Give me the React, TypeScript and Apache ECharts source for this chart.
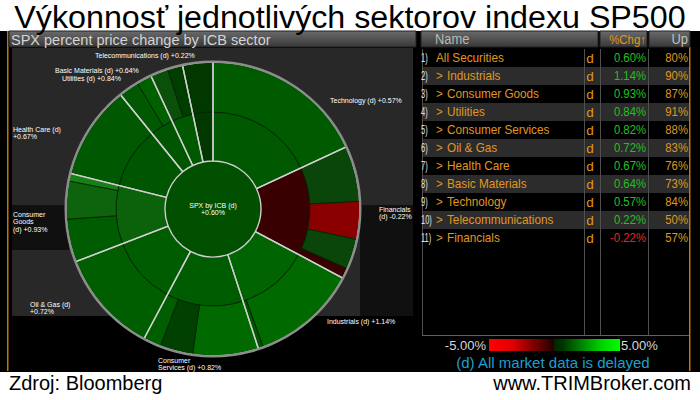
import { useEffect, useRef } from "react";
import * as echarts from "echarts";

// ---------- texts ----------
const TITLE = "Výkonnosť jednotlivých sektorov indexu SP500";
const PANEL_TITLE = "SPX percent price change by ICB sector";
const SOURCE_TEXT = "Zdroj: Bloomberg";
const SITE_TEXT = "www.TRIMBroker.com";
const DELAY_NOTE = "(d) All market data is delayed";
const TABLE_HEADERS = ["Name", "%Chg\u2191", "Up"];
const SCALE_MIN_LABEL = "-5.00%";
const SCALE_MAX_LABEL = "5.00%";

// ---------- index ----------
const INDEX_NAME = "SPX by ICB (d)";
const INDEX_TABLE_NAME = "All Securities";
const INDEX_CHG = 0.6;
const INDEX_UP = 80;
const INDEX_COLOR = "#005000";

// ---------- sectors (clockwise from 12 o'clock) ----------
const sectors = [
  "Technology",
  "Financials",
  "Industrials",
  "Consumer Services",
  "Oil & Gas",
  "Consumer Goods",
  "Health Care",
  "Basic Materials",
  "Utilities",
  "Telecommunications",
];
const sectorWeights = [65, 53, 44, 46, 41, 35, 37, 14, 13, 12];
const sectorChg = [0.57, -0.22, 1.14, 0.82, 0.72, 0.93, 0.67, 0.64, 0.84, 0.22];
const sectorUp = [84, 57, 90, 88, 83, 87, 76, 73, 91, 50];
const sectorColors = [
  "#005800", "#380000", "#006400", "#005c00", "#005c00",
  "#0b620b", "#005600", "#005600", "#005800", "#003800",
];

// ---------- sub-sectors (outer ring) ----------
const subNames = [
  ["Technology"],
  ["Banks", "Insurance", "Financial Services", "Real Estate"],
  ["Industrial Goods & Services", "Construction & Materials"],
  ["Retail", "Media", "Travel & Leisure"],
  ["Oil & Gas"],
  ["Personal & Household Goods", "Food & Beverage", "Automobiles & Parts"],
  ["Health Care"],
  ["Chemicals", "Basic Resources"],
  ["Electricity", "Gas, Water & Multiutilities"],
  ["Telecommunications"],
];
const subWeights = [
  [65], [22, 15, 12, 4], [42, 2], [26, 13, 7], [41],
  [17, 15, 3], [37], [8, 6], [7, 6], [12],
];
const subColors = [
  ["#005a00"],
  ["#0a460a", "#8a0000", "#0a460a", "#380000"],
  ["#006a00", "#005600"],
  ["#006a00", "#004000", "#005e00"],
  ["#005e00"],
  ["#005c00", "#0d640d", "#168016"],
  ["#005800"],
  ["#005800", "#006000"],
  ["#0a500a", "#003e00"],
  ["#003800"],
];

// ---------- label layout (text pattern, left x, first-line centre y) ----------
const labelTemplates = [
  "{n} (d) {v}",
  "{n}\n(d) {v}",
  "{n} (d) {v}",
  "{w0}\n{w1} (d) {v}",
  "{n} (d)\n{v}",
  "{w0}\n{w1}\n(d) {v}",
  "{n} (d)\n{v}",
  "{n} (d) {v}",
  "{n} (d) {v}",
  "{n} (d) {v}",
];
const labelPos: [number, number][] = [
  [330, 100], [379, 209], [327, 321], [158, 360], [30, 304],
  [13, 214], [13, 129], [55, 70], [62, 78], [95, 55],
];

const CX = 213;
const CY = 209;
const R_CENTER = 48;
const R_MID = 97;
const R_OUT = 147;

const ORANGE = "#e0961e";
const GREEN_TXT = "#22c022";
const RED_TXT = "#e02828";

const signed = (v: number) => (v > 0 ? "+" : "") + v.toFixed(2) + "%";

function buildOption() {
  const headerGrad = () =>
    new echarts.graphic.LinearGradient(0, 0, 0, 1, [
      { offset: 0, color: "#6a6a6a" },
      { offset: 1, color: "#383838" },
    ]);

  const els: any[] = [];
  const txt = (o: any) => {
    const { x, y, text, size, color, align, valign, family, weight, scaleX, lineHeight, z } = o;
    els.push({
      type: "text",
      x,
      y,
      scaleX: scaleX ?? 1,
      z: z ?? 50,
      style: {
        x: 0,
        y: 0,
        text,
        fill: color,
        fontSize: size,
        fontFamily: family ?? "Liberation Sans",
        fontWeight: weight ?? "normal",
        align: align ?? "left",
        textAlign: align ?? "left",
        verticalAlign: valign ?? "middle",
        textVerticalAlign: valign ?? "middle",
        lineHeight: lineHeight ?? undefined,
      },
    });
  };
  const rect = (x: number, y: number, w: number, h: number, fill: any, stroke?: string, z = 0) => {
    els.push({
      type: "rect",
      z,
      shape: { x, y, width: w, height: h },
      style: { fill, stroke: stroke ?? null, lineWidth: stroke ? 1 : 0 },
    });
  };
  const line = (x1: number, y1: number, x2: number, y2: number, color: string, w = 1) => {
    els.push({
      type: "line",
      z: 1,
      shape: { x1, y1, x2, y2 },
      style: { stroke: color, lineWidth: w },
    });
  };

  // black terminal area
  rect(0, 31, 700, 341, "#000000");
  // orange frame lines
  rect(7, 31, 1.5, 340, "#c07800");
  rect(689, 47, 1.5, 324, "#c07800");

  // left panel
  rect(9, 31, 407, 16, headerGrad(), "#202020");
  txt({ x: 11, y: 39.5, text: PANEL_TITLE, size: 14.5, color: "#d4d4d4" });
  rect(12, 48, 401, 268, "#282828");
  rect(12, 205, 57, 45, "#101010");
  rect(360, 205, 53, 111, "#101010");

  // right panel header
  rect(421, 31, 177, 16, headerGrad(), "#202020");
  rect(600, 31, 47, 16, headerGrad(), "#202020");
  rect(649, 31, 41, 16, headerGrad(), "#202020");
  txt({ x: 435, y: 39.5, text: TABLE_HEADERS[0], size: 14, color: "#b8b8b8", scaleX: 0.92 });
  txt({ x: 646, y: 39.5, text: TABLE_HEADERS[1], size: 13, color: ORANGE, align: "right", scaleX: 0.88 });
  txt({ x: 688, y: 39.5, text: TABLE_HEADERS[2], size: 14, color: "#c0c0c0", align: "right", scaleX: 0.92 });

  // table rows
  const order = sectors.map((_, i) => i).sort((a, b) => sectorChg[b] - sectorChg[a]);
  const rows = [
    { name: INDEX_TABLE_NAME, chg: INDEX_CHG, up: INDEX_UP, sub: false },
    ...order.map((i) => ({ name: sectors[i], chg: sectorChg[i], up: sectorUp[i], sub: true })),
  ];
  const ROW_TOP = 49;
  const ROW_H = 18;
  rows.forEach((r, k) => {
    const top = ROW_TOP + k * ROW_H;
    const cy = top + ROW_H / 2;
    if (k % 2 === 1) rect(422, top, 267, ROW_H, "#2c2c2c");
    txt({ x: 421, y: cy, text: `${k + 1})`, size: 12, color: "#e0e0e0", scaleX: 0.62 });
    if (r.sub) {
      txt({ x: 436, y: cy, text: ">", size: 13, color: ORANGE, scaleX: 0.88 });
      txt({ x: 447, y: cy, text: r.name, size: 13.5, color: ORANGE, scaleX: 0.87 });
    } else {
      txt({ x: 436, y: cy, text: r.name, size: 13.5, color: ORANGE, scaleX: 0.87 });
    }
    txt({ x: 590, y: cy, text: "d", size: 13.5, color: ORANGE, align: "center" });
    txt({
      x: 646, y: cy, text: r.chg.toFixed(2) + "%", size: 13.5,
      color: r.chg < 0 ? RED_TXT : GREEN_TXT, align: "right", scaleX: 0.84,
    });
    txt({ x: 688, y: cy, text: `${r.up}%`, size: 13.5, color: ORANGE, align: "right", scaleX: 0.84 });
  });
  const TBL_BOTTOM = 335;
  line(584.5, ROW_TOP, 584.5, TBL_BOTTOM, "#505050");
  line(600.5, ROW_TOP, 600.5, TBL_BOTTOM, "#505050");
  line(648.5, ROW_TOP, 648.5, TBL_BOTTOM, "#505050");
  line(422.5, ROW_TOP, 422.5, TBL_BOTTOM, "#505050");
  line(422, TBL_BOTTOM + 0.5, 689, TBL_BOTTOM + 0.5, "#606060");

  // colour scale
  rect(
    489, 339, 131, 12,
    new echarts.graphic.LinearGradient(0, 0, 1, 0, [
      { offset: 0, color: "#ff0000" },
      { offset: 0.18, color: "#e00000" },
      { offset: 0.45, color: "#3c0000" },
      { offset: 0.5, color: "#200000" },
      { offset: 0.5, color: "#002800" },
      { offset: 0.56, color: "#003400" },
      { offset: 0.85, color: "#00d000" },
      { offset: 1, color: "#00ff00" },
    ])
  );
  txt({ x: 486, y: 345, text: SCALE_MIN_LABEL, size: 13, color: "#d8d8d8", align: "right" });
  txt({ x: 621, y: 345, text: SCALE_MAX_LABEL, size: 13, color: "#d8d8d8" });
  txt({ x: 553, y: 362, text: DELAY_NOTE, size: 15, color: "#1c9fd0", align: "center" });

  // title & footer
  txt({ x: 350, y: 17.5, text: TITLE, size: 31, color: "#000000", align: "center", scaleX: 1.04 });
  txt({ x: 9, y: 383, text: SOURCE_TEXT, size: 20, color: "#000000" });
  txt({ x: 691, y: 383, text: SITE_TEXT, size: 20, color: "#000000", align: "right" });

  // sunburst labels
  sectors.forEach((s, i) => {
    const words = s.split(" ");
    const t = labelTemplates[i]
      .replace("{n}", s)
      .replace("{w0}", words[0])
      .replace("{w1}", words.slice(1).join(" "))
      .replace("{v}", signed(sectorChg[i]));
    const [lx, ly] = labelPos[i];
    txt({ x: lx, y: ly - 3.75, text: t, size: 7, color: "#ffffff", valign: "top", lineHeight: 7.5 });
  });
  txt({
    x: CX, y: CY - 7.5, text: `${INDEX_NAME}\n${signed(INDEX_CHG)}`, size: 7,
    color: "#ffffff", align: "center", valign: "top", lineHeight: 7,
  });

  const mainData = [
    {
      name: INDEX_NAME,
      value: sectorWeights.reduce((a, b) => a + b, 0),
      itemStyle: { color: INDEX_COLOR },
      children: sectors.map((s, i) => ({
        name: s,
        value: sectorWeights[i],
        itemStyle: { color: sectorColors[i] },
        children: subNames[i].map((n, j) => ({
          name: n,
          value: subWeights[i][j],
          itemStyle: { color: subColors[i][j] },
        })),
      })),
    },
  ];

  return {
    animation: false,
    backgroundColor: "#ffffff",
    graphic: { elements: els },
    series: [
      {
        type: "sunburst",
        center: [CX, CY],
        sort: null,
        nodeClick: false,
        silent: true,
        label: { show: false },
        emphasis: { disabled: true },
        itemStyle: { borderColor: "#002400", borderWidth: 0.8 },
        levels: [
          {},
          { r0: 0, r: R_CENTER, itemStyle: { borderWidth: 0 } },
          { r0: R_CENTER, r: R_MID, itemStyle: { borderColor: "#002400", borderWidth: 0.8 } },
          { r0: R_MID, r: R_OUT, itemStyle: { borderColor: "#002400", borderWidth: 0.8 } },
        ],
        data: mainData,
      },
      {
        type: "sunburst",
        center: [CX, CY],
        sort: null,
        nodeClick: false,
        silent: true,
        label: { show: false },
        emphasis: { disabled: true },
        itemStyle: { color: "rgba(0,0,0,0)", borderColor: "#cfcfcf", borderWidth: 1.4 },
        levels: [{}, { r0: R_CENTER, r: R_OUT }],
        data: sectors.map((s, i) => ({
          name: s,
          value: sectorWeights[i],
          itemStyle: { color: "rgba(0,0,0,0)", borderColor: "#cfcfcf", borderWidth: 1.4 },
        })),
      },
      {
        type: "sunburst",
        center: [CX, CY],
        sort: null,
        nodeClick: false,
        silent: true,
        label: { show: false },
        emphasis: { disabled: true },
        levels: [{}, { r0: R_OUT - 0.8, r: R_OUT + 1.5 }],
        data: [{ name: "rim", value: 1, itemStyle: { color: "#8c8c8c", borderWidth: 0 } }],
      },
    ],
  };
}

export default function App() {
  const ref = useRef<HTMLDivElement>(null);
  useEffect(() => {
    document.body.style.margin = "0";
    if (!ref.current) return;
    const chart = echarts.init(ref.current, undefined, { renderer: "svg" });
    chart.setOption(buildOption() as any);
    return () => chart.dispose();
  }, []);
  return (
    <div
      ref={ref}
      style={{ position: "absolute", left: 0, top: 0, width: 700, height: 400, background: "#fff" }}
    />
  );
}
